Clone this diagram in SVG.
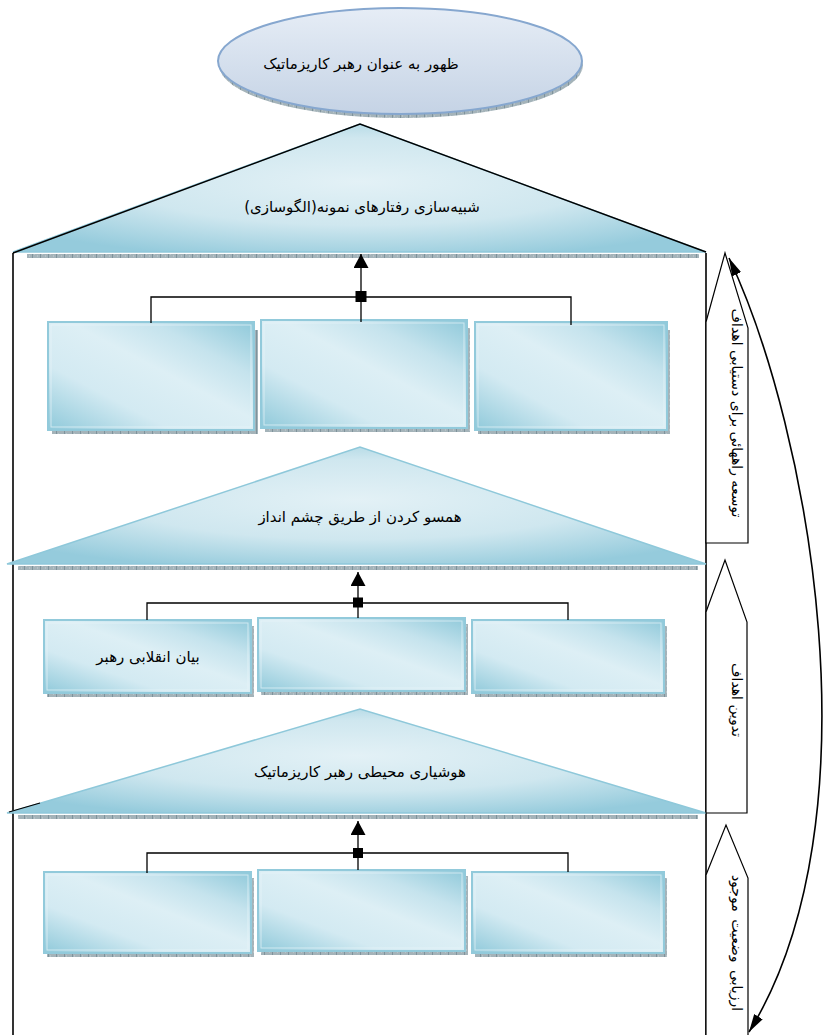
<svg xmlns="http://www.w3.org/2000/svg" width="825" height="1035" viewBox="0 0 825 1035">
<defs>
<style>
.t{font-family:"DejaVu Sans","Noto Sans",sans-serif;font-size:15px;fill:#000;text-anchor:middle}
.v{font-family:"DejaVu Sans","Noto Sans",sans-serif;font-size:14px;fill:#000;text-anchor:middle}
.box{fill:url(#gBox);stroke:#92cadb;stroke-width:2}
.inner{fill:none;stroke:#e8f5f9;stroke-width:1;opacity:.7}
.sh{fill:url(#hatch)}
.tri{fill:url(#gTri);stroke:#8ec8da;stroke-width:1.5}
.frame{fill:none;stroke:#000;stroke-width:1.6}
.pent{fill:#fff;stroke:#000;stroke-width:1.2}
.ln{fill:none;stroke:#000;stroke-width:1.3}
.sq{fill:#000}
</style>
<pattern id="hatch" width="8" height="6" patternUnits="userSpaceOnUse">
<rect width="8" height="6" fill="#a4b3b9"/>
<path d="M0 0V6" stroke="#5a7480" stroke-width="1"/>
<path d="M2 2h1M5 4h1" stroke="#c8d2d6" stroke-width="1"/>
</pattern>
<linearGradient id="gBox" x1="0" y1="1" x2="1" y2="0">
<stop offset="0" stop-color="#8fc9da"/>
<stop offset="0.3" stop-color="#d3eaf2"/>
<stop offset="0.55" stop-color="#ddeff5"/>
<stop offset="0.75" stop-color="#c5e3ed"/>
<stop offset="1" stop-color="#8fc9da"/>
</linearGradient>
<radialGradient id="gTri" cx="0.5" cy="0.45" r="0.62">
<stop offset="0" stop-color="#e3f1f6"/>
<stop offset="0.55" stop-color="#cfe7ef"/>
<stop offset="1" stop-color="#95cbdc"/>
</radialGradient>
<linearGradient id="gEll" x1="0" y1="0" x2="0" y2="1">
<stop offset="0" stop-color="#e6edf6"/>
<stop offset="1" stop-color="#c5d3e5"/>
</linearGradient>
<marker id="ah" viewBox="0 0 14 15" refX="14" refY="7.5" markerWidth="14" markerHeight="15" markerUnits="userSpaceOnUse" orient="auto">
<path d="M0 0L14 7.5L0 15z" fill="#000"/>
</marker>
<marker id="ah2" viewBox="0 0 18 10" refX="18" refY="5" markerWidth="18" markerHeight="10" markerUnits="userSpaceOnUse" orient="auto-start-reverse">
<path d="M0 0L18 5L0 10z" fill="#000"/>
</marker>
</defs>
<rect width="825" height="1035" fill="#fff"/>

<g id="frame">
<path class="frame" d="M13 253V1035"/>
<path class="frame" d="M706 253V1035" stroke-width="2"/>
</g>

<g id="goal">
<ellipse cx="401" cy="65" rx="182" ry="53" class="sh"/>
<ellipse cx="400" cy="61" rx="182" ry="53" fill="url(#gEll)" stroke="#86a7cf" stroke-width="2"/>
<text class="t" x="361" y="69" direction="rtl">ظهور به عنوان رهبر کاریزماتیک</text>
</g>

<g id="tri1">
<rect x="27" y="254" width="672" height="4" class="sh"/>
<polygon class="tri" points="13,252 360,124 706,252"/>
<path d="M13 253L360 124L706 252" fill="none" stroke="#000" stroke-width="1.4"/>
<text class="t" x="362" y="212" direction="rtl">شبیه‌سازی رفتارهای نمونه(الگوسازی)</text>
</g>

<g id="tri2">
<rect x="18" y="566" width="680" height="4" class="sh"/>
<polygon class="tri" points="7,564 360,447 706,564"/>
<text class="t" x="360" y="522" direction="rtl">همسو کردن از طریق چشم انداز</text>
</g>

<g id="tri3">
<rect x="18" y="815" width="680" height="4" class="sh"/>
<polygon class="tri" points="7,813 360,709 706,813"/>
<path d="M9 812L40 803" fill="none" stroke="#000" stroke-width="1.2"/>
<text class="t" x="360" y="777" direction="rtl">هوشیاری محیطی رهبر کاریزماتیک</text>
</g>

<g id="row1-box1"><rect x="52" y="430" width="204" height="4" class="sh"/><rect x="255" y="330" width="3" height="104" class="sh"/><rect class="box" x="48" y="322" width="206" height="108"/><rect class="inner" x="51" y="325" width="200" height="102"/></g>
<g id="row1-box2"><rect x="265" y="428" width="205" height="4" class="sh"/><rect x="467" y="328" width="3" height="104" class="sh"/><rect class="box" x="261" y="320" width="206" height="108"/><rect class="inner" x="264" y="323" width="200" height="102"/></g>
<g id="row1-box3"><rect x="478" y="430" width="192" height="4" class="sh"/><rect x="667" y="330" width="3" height="104" class="sh"/><rect class="box" x="475" y="322" width="192" height="108"/><rect class="inner" x="478" y="325" width="186" height="102"/></g>

<g id="row2-box1"><rect x="47" y="693" width="205" height="4" class="sh"/><rect x="251" y="626" width="3" height="71" class="sh"/><rect class="box" x="44" y="620" width="207" height="73"/><rect class="inner" x="47" y="623" width="201" height="67"/><text class="t" x="148" y="662" direction="rtl">بیان انقلابی رهبر</text></g>
<g id="row2-box2"><rect x="261" y="691" width="206" height="4" class="sh"/><rect x="465" y="624" width="3" height="71" class="sh"/><rect class="box" x="258" y="618" width="207" height="73"/><rect class="inner" x="261" y="621" width="201" height="67"/></g>
<g id="row2-box3"><rect x="475" y="693" width="191" height="4" class="sh"/><rect x="664" y="626" width="3" height="71" class="sh"/><rect class="box" x="472" y="620" width="192" height="73"/><rect class="inner" x="475" y="623" width="186" height="67"/></g>

<g id="row3-box1"><rect x="47" y="953" width="206" height="4" class="sh"/><rect x="251" y="878" width="3" height="79" class="sh"/><rect class="box" x="44" y="872" width="207" height="81"/><rect class="inner" x="47" y="875" width="201" height="75"/></g>
<g id="row3-box2"><rect x="261" y="951" width="206" height="4" class="sh"/><rect x="465" y="876" width="3" height="79" class="sh"/><rect class="box" x="258" y="870" width="207" height="81"/><rect class="inner" x="261" y="873" width="201" height="75"/></g>
<g id="row3-box3"><rect x="475" y="953" width="191" height="4" class="sh"/><rect x="664" y="878" width="3" height="79" class="sh"/><rect class="box" x="472" y="872" width="192" height="81"/><rect class="inner" x="475" y="875" width="186" height="75"/></g>

<g id="label1">
<polygon class="pent" points="706,322 725,253 748,328 748,543 706,543"/>
<text class="v" transform="translate(732 413) rotate(90)" direction="rtl">توسعه راههائی برای دستیابی اهداف</text>
</g>
<g id="label2">
<polygon class="pent" points="706,612 725,560 747,622 747,813 706,813"/>
<text class="v" transform="translate(732 700) rotate(90)" direction="rtl">تدوین اهداف</text>
</g>
<g id="label3">
<polygon class="pent" points="706,875 726,825 748,878 748,1040 706,1040"/>
<text class="v" transform="translate(732 943) rotate(90)" direction="rtl" word-spacing="3">ارزیابی وضعیت موجود</text>
</g>

<g id="connectors">
<path class="ln" d="M151 323V297H571V325"/>
<path class="ln" d="M361 322V254" marker-end="url(#ah)"/>
<rect class="sq" x="355.5" y="291" width="11" height="11"/>

<path class="ln" d="M147 620V603H568V620"/>
<path class="ln" d="M358 618V572" marker-end="url(#ah)"/>
<rect class="sq" x="353" y="597.5" width="10" height="10"/>

<path class="ln" d="M147 873V853H568V872"/>
<path class="ln" d="M358 870V821" marker-end="url(#ah)"/>
<rect class="sq" x="353" y="848" width="10" height="10"/>

<path d="M729 258C810 430 880 820 749 1032" fill="none" stroke="#000" stroke-width="1.6" marker-start="url(#ah2)" marker-end="url(#ah2)"/>
</g>
</svg>
